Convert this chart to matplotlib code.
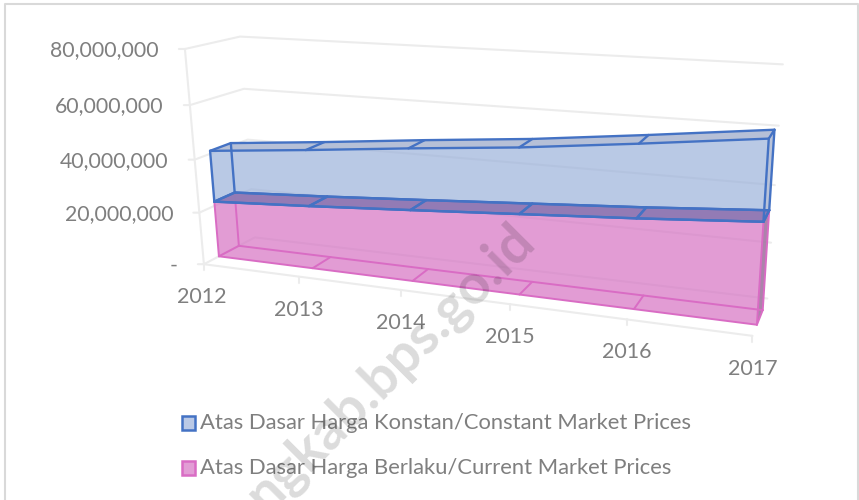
import numpy as np
import matplotlib
matplotlib.use('Agg')
import matplotlib.pyplot as plt

plt.rcParams['font.family'] = ['Lato', 'DejaVu Sans']

years = ['2012', '2013', '2014', '2015', '2016', '2017']
current_prices = [21.6e6, 23.8e6, 26.3e6, 28.9e6, 31.5e6, 34.5e6]
constant_prices = [19.5e6, 20.8e6, 22.1e6, 23.0e6, 24.8e6, 26.5e6]
value_ticks = [0, 20e6, 40e6, 60e6, 80e6]
value_labels = ['-', '20,000,000', '40,000,000', '60,000,000', '80,000,000']
legend_labels = ['Atas Dasar Harga Konstan/Constant Market Prices',
                 'Atas Dasar Harga Berlaku/Current Market Prices']

Y_MAX = 80e6
DEPTH_FRONT, DEPTH_BACK = 0.28, 0.67
TEXT = '#7f7f7f'
GRID = '#ececec'
BLUE = '#4472c4'
PINK = '#d96cc4'

# box corners as seen on the page: (along, up, depth) -> pixel, used to fit the camera
anchors = [
    ((0, 0, 0), (203, 265)), ((0, 1, 0), (187, 49)), ((0, 1, 1), (238, 36)),
    ((0, 0, 1), (257, 237)), ((1, 1, 1), (783, 65)), ((1, 0, 1), (767, 299)),
    ((1, 0, 0), (753, 335)), ((.2, 0, 0), (298, 277)), ((.4, 0, 0), (400, 290)),
    ((.6, 0, 0), (510, 304)), ((.8, 0, 0), (627, 319)),
]


def fit_camera(pairs):
    rows, rhs = [], []
    for (a, b, c), (px, py) in pairs:
        rows.append([a, b, c, 1, 0, 0, 0, 0, -px * a, -px * b, -px * c])
        rows.append([0, 0, 0, 0, a, b, c, 1, -py * a, -py * b, -py * c])
        rhs += [px, py]
    sol = np.linalg.lstsq(np.array(rows, float), np.array(rhs, float), rcond=None)[0]
    return np.append(sol, 1).reshape(3, 4)


CAM = fit_camera(anchors)


def project(i, value, depth):
    vec = CAM @ np.array([i / (len(years) - 1), value / Y_MAX, depth, 1.0])
    return vec[0] / vec[2], vec[1] / vec[2]


fig = plt.figure(figsize=(8.59, 5), dpi=100)
ax = fig.add_axes([0, 0, 1, 1])
ax.set_xlim(0, 859)
ax.set_ylim(500, 0)
ax.axis('off')


def line(points, color, lw, z):
    xs, ys = zip(*points)
    ax.plot(xs, ys, color=color, lw=lw, zorder=z, solid_capstyle='round', solid_joinstyle='round')


def face(points, color, alpha, z):
    ax.fill(*zip(*points), facecolor=color, edgecolor='none', alpha=alpha, zorder=z)


# outer frame
line([(4.5, 500), (4.5, 4), (857.5, 4), (857.5, 500)], '#d9d9d9', 1.5, 0)

# walls and floor
n = len(years) - 1
for v, label in zip(value_ticks, value_labels):
    fx, fy = project(0, v, 0)
    line([(fx - 6, fy), project(0, v, 0), project(0, v, 1), project(n, v, 1)], GRID, 1.5, 1)
    ax.text(fx - 26, fy + 1, label, ha='right', va='center', fontsize=15.3, color=TEXT, zorder=8)
line([project(0, 0, 0), project(0, Y_MAX, 0)], GRID, 1.5, 1)
line([project(0, 0, 0), project(n, 0, 0)], GRID, 1.5, 1)
for i, year in enumerate(years):
    tx, ty = project(i, 0, 0)
    line([(tx, ty), (tx, ty + 6)], GRID, 1.5, 1)
    ax.text(tx - (2 if i == 0 else 0), ty + 33, year, ha='center', va='center', fontsize=15.5, color=TEXT, zorder=8)


def band(bottom, top, edge, lw, fill, top_fill, top_alpha, side_fill, z):
    idx = range(len(years))
    front_top = [project(i, top[i], DEPTH_FRONT) for i in idx]
    back_top = [project(i, top[i], DEPTH_BACK) for i in idx]
    front_bot = [project(i, bottom[i], DEPTH_FRONT) for i in idx]
    back_bot = [project(i, bottom[i], DEPTH_BACK) for i in idx]

    face(back_top + back_bot[::-1], fill, 0.45, z)
    face(back_bot + front_bot[::-1], fill, 0.45, z)
    face([front_top[0], back_top[0], back_bot[0], front_bot[0]], fill, 0.45, z)
    face([front_top[-1], back_top[-1], back_bot[-1], front_bot[-1]], side_fill, 0.85, z)
    face(front_top + front_bot[::-1], fill, 0.45, z)
    face(front_top + back_top[::-1], top_fill, top_alpha, z + 1)

    for run in (back_bot, front_bot, back_top, front_top):
        line(run, edge, lw, z + 2)
    for i in idx:
        line([front_top[i], back_top[i]], edge, lw, z + 2)
        line([front_bot[i], back_bot[i]], edge, lw, z + 2)
    for k in (0, -1):
        line([front_top[k], front_bot[k]], edge, lw, z + 2)
        line([back_top[k], back_bot[k]], edge, lw, z + 2)


stack_top = [a + b for a, b in zip(current_prices, constant_prices)]
band([0] * len(years), current_prices, PINK, 1.4, '#d673c3', '#d673c3', 0.3, '#a07aa0', 2)
band(current_prices, stack_top, BLUE, 1.7, '#9cb2db', '#b5bfd6', 0.95, '#b5bfd6', 5)
# top of the pink band seen through the blue one
face([project(i, current_prices[i], DEPTH_FRONT) for i in range(len(years))]
     + [project(i, current_prices[i], DEPTH_BACK) for i in range(len(years))][::-1],
     '#9279b3', 0.95, 6)
for i in range(len(years)):
    line([project(i, current_prices[i], DEPTH_FRONT), project(i, current_prices[i], DEPTH_BACK)], BLUE, 1.7, 7)
line([project(i, current_prices[i], DEPTH_FRONT) for i in range(len(years))], BLUE, 1.7, 7)
line([project(i, current_prices[i], DEPTH_BACK) for i in range(len(years))], BLUE, 1.7, 7)

# legend
for y, label, fill, edge in zip([423, 467.5], legend_labels, ['#bac9e6', '#e29dd5'], [BLUE, PINK]):
    ax.add_patch(plt.Rectangle((181.5, y - 7), 13, 14, facecolor=fill, edgecolor=edge, lw=1.8, zorder=8))
    ax.text(200, y, label, ha='left', va='center', fontsize=15.8, color=TEXT, zorder=8)

# watermark
ax.text(537, 243, 'ngkab.bps.go.id', rotation=45, rotation_mode='anchor', ha='right', va='baseline',
        fontsize=40, fontweight='bold', color='black', alpha=0.14, zorder=9)

plt.savefig('out.png', dpi=100)
